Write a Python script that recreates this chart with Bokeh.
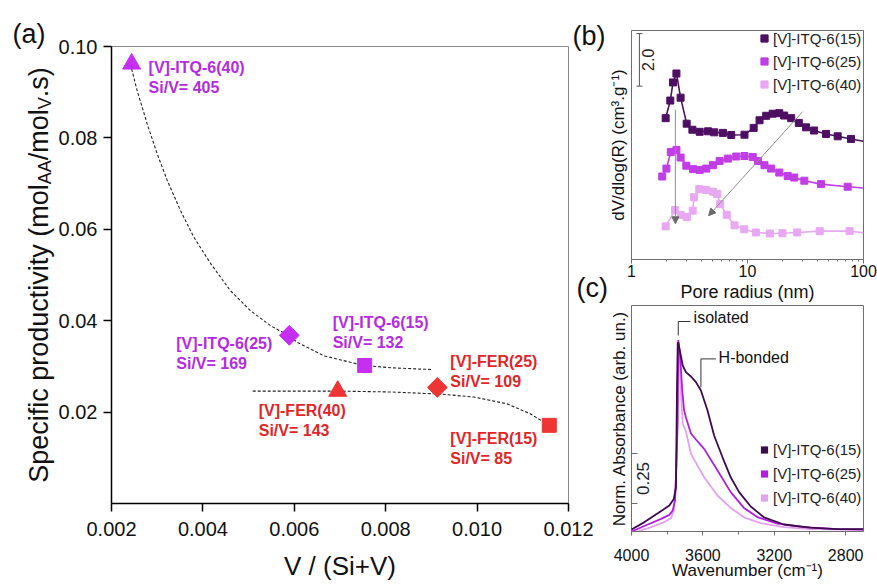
import math
from bokeh.plotting import figure
from bokeh.layouts import row, column
from bokeh.models import (Range1d, FixedTicker, Label, Arrow, NormalHead, TeeHead,
                          Legend, LegendItem, PrintfTickFormatter, BasicTickFormatter,
                          CustomJSTickFormatter)
from bokeh.embed import file_html
from bokeh.resources import INLINE

FONT = "Liberation Sans"

# ===================== DATA =====================
# ---- panel (a): specific productivity vs V/(Si+V)
a_names = ["[V]-ITQ-6(40)", "[V]-ITQ-6(25)", "[V]-ITQ-6(15)",
           "[V]-FER(40)", "[V]-FER(25)", "[V]-FER(15)"]
a_si_v = [405, 169, 132, 143, 109, 85]
a_v_frac = [0.00244, 0.00589, 0.00754, 0.00695, 0.00913, 0.01158]
a_productivity = [0.0962, 0.0368, 0.0302, 0.0246, 0.0254, 0.0171]

a_trend_itq_x = [0.00244, 0.00256, 0.00278, 0.00300, 0.00322, 0.00351, 0.00380, 0.00417,
                 0.00460, 0.00504, 0.00548, 0.00589, 0.00606, 0.00665, 0.00723, 0.00754,
                 0.00811, 0.00902]
a_trend_itq_y = [0.0951, 0.0904, 0.0831, 0.0765, 0.0707, 0.0641, 0.0583, 0.0525,
                 0.0466, 0.0422, 0.0389, 0.0367, 0.0353, 0.0323, 0.0309, 0.0302,
                 0.0297, 0.0293]
a_trend_fer_x = [0.00509, 0.00695, 0.00811, 0.00883, 0.00913, 0.00993, 0.01066, 0.01117, 0.01146]
a_trend_fer_y = [0.0246, 0.0246, 0.0244, 0.0241, 0.0240, 0.0233, 0.0218, 0.0196, 0.0178]

a_xticks = [0.002, 0.004, 0.006, 0.008, 0.010, 0.012]
a_yticks = [0.02, 0.04, 0.06, 0.08, 0.10]

# ---- panel (b): pore size distribution (offset curves)
b_labels = ["[V]-ITQ-6(15)", "[V]-ITQ-6(25)", "[V]-ITQ-6(40)"]
b_r15 = [1.97, 2.16, 2.28, 2.44, 2.65, 2.99, 3.35, 3.87, 4.57, 5.17, 6.14, 7.24, 9.42,
         11.3, 12.7, 14.5, 16.5, 18.8, 20.7, 23.8, 27.7, 32.0, 37.5, 47.5, 59.9, 78.0, 100.0]
b_v15 = [5.38, 6.05, 6.74, 7.08, 6.16, 5.17, 4.94, 4.86, 4.88, 4.84, 4.82, 4.74, 4.75,
         5.01, 5.30, 5.47, 5.55, 5.57, 5.48, 5.38, 5.20, 5.03, 4.91, 4.78, 4.69, 4.59, 4.50]
b_r25 = [1.84, 2.00, 2.18, 2.44, 2.65, 2.97, 3.39, 3.87, 4.41, 5.04, 5.75, 6.78, 8.00,
         9.42, 11.1, 12.3, 14.0, 16.0, 18.8, 22.2, 25.3, 30.9, 43.0, 73.0, 100.0]
b_v25 = [3.16, 3.46, 4.09, 4.17, 3.88, 3.57, 3.44, 3.41, 3.46, 3.59, 3.75, 3.84, 3.92,
         3.94, 3.90, 3.75, 3.59, 3.46, 3.31, 3.18, 3.12, 3.00, 2.87, 2.77, 2.72]
b_r40 = [1.97, 2.37, 2.66, 3.00, 3.37, 3.46, 3.84, 4.41, 5.04, 5.49, 5.82, 6.62, 7.73,
         9.37, 11.8, 15.6, 20.0, 26.8, 41.9, 75.9, 100.0]
b_v40 = [1.26, 1.88, 1.69, 1.62, 1.86, 2.37, 2.68, 2.65, 2.58, 2.49, 2.11, 1.70, 1.30,
         1.15, 1.03, 0.99, 1.00, 1.03, 1.08, 1.08, 1.02]
b_xticks = [1, 10, 100]
b_scale_bar = 2.0

# ---- panel (c): FTIR OH region, normalised
c_labels = ["[V]-ITQ-6(15)", "[V]-ITQ-6(25)", "[V]-ITQ-6(40)"]
c_wn15 = [4000, 3927, 3872, 3825, 3788, 3763, 3751, 3745, 3741, 3738, 3727, 3713, 3695, 3667,
          3639, 3611, 3574, 3537, 3490, 3444, 3397, 3332, 3258, 3146, 2998, 2848, 2700]
c_ab15 = [0.000, 0.037, 0.070, 0.098, 0.120, 0.153, 0.210, 0.710, 0.930, 0.936, 0.886, 0.820,
          0.787, 0.765, 0.737, 0.695, 0.595, 0.470, 0.361, 0.261, 0.187, 0.115, 0.061, 0.025,
          0.009, 0.002, 0.002]
c_wn25 = [4000, 3908, 3834, 3788, 3769, 3756, 3749, 3741, 3738, 3727, 3716, 3706, 3695, 3667,
          3639, 3593, 3518, 3444, 3370, 3295, 3183, 3035, 2848, 2700]
c_ab25 = [-0.010, 0.025, 0.053, 0.073, 0.095, 0.145, 0.295, 0.545, 0.948, 0.862, 0.700, 0.600,
          0.560, 0.480, 0.450, 0.403, 0.295, 0.187, 0.108, 0.062, 0.029, 0.012, 0.002, 0.000]
c_wn40 = [4000, 3890, 3816, 3778, 3763, 3754, 3745, 3738, 3729, 3721, 3713, 3695, 3667, 3593,
          3518, 3444, 3370, 3277, 3146, 2998, 2700]
c_ab40 = [-0.020, 0.012, 0.037, 0.058, 0.095, 0.210, 0.445, 0.920, 0.800, 0.650, 0.530, 0.490,
          0.378, 0.261, 0.170, 0.108, 0.061, 0.032, 0.012, 0.002, -0.002]
c_xticks = [4000, 3600, 3200, 2800]
c_xminor = [3800, 3400, 3000]
c_scale_bar = 0.25

# ===================== STYLE =====================
A_FILL = {"ITQ": "#C52FF2", "FER": "#EF3434"}
A_TEXT = {"ITQ": "#B42BE2", "FER": "#E02626"}
A_MARK = {"[V]-ITQ-6(40)": ("triangle", 18, 0.0), "[V]-ITQ-6(25)": ("square", 14, math.pi / 4),
          "[V]-ITQ-6(15)": ("square", 14, 0.0), "[V]-FER(40)": ("triangle", 18, 0.0),
          "[V]-FER(25)": ("square", 14, math.pi / 4), "[V]-FER(15)": ("square", 14, 0.0)}
A_LBL_OFF = {"[V]-ITQ-6(40)": (17, -4), "[V]-ITQ-6(25)": (-113, -8),
             "[V]-ITQ-6(15)": (-32, 43), "[V]-FER(40)": (-79, -19),
             "[V]-FER(25)": (13, 26), "[V]-FER(15)": (-99, -13)}
B_COL = ["#4E0F62", "#C13DE6", "#E8A8F2"]
C_COL = ["#3E0B4E", "#B01EDE", "#E2A2EE"]
FRAME_COL = "#6E6E6E"
W, H = 877, 584

ARIAL_W = {' ': 278, '(': 333, ')': 333, '.': 278, '/': 278, 'A': 667, 'S': 667, 'V': 667,
           'c': 500, 'd': 556, 'e': 556, 'f': 278, 'i': 222, 'l': 222, 'm': 833, 'o': 556,
           'p': 556, 'r': 333, 's': 500, 't': 278, 'u': 556, 'v': 500, 'y': 500}


def tw(s, fs):
    return sum(ARIAL_W.get(ch, 556) for ch in s) * fs / 1000.0


def style_axis(ax, size):
    ax.major_label_text_font = FONT
    ax.major_label_text_font_size = size
    ax.major_label_text_color = "#111111"
    ax.axis_label_text_font = FONT
    ax.axis_label_text_font_style = "normal"
    ax.axis_label_text_color = "#111111"


# ===================== PANEL (a) =====================
A_FL, A_FT, A_FW, A_FH = 111, 46, 457, 457   # frame position in page pixels
A_W = 605
p_a = figure(width=A_W, height=H, x_range=Range1d(0.002, 0.012), y_range=Range1d(0.0, 0.10),
             output_backend="svg", toolbar_location=None,
             min_border_left=A_FL, min_border_top=A_FT,
             min_border_right=A_W - A_FL - A_FW, min_border_bottom=H - A_FT - A_FH)
p_a.grid.visible = False
p_a.outline_line_color = "#8A8A8A"
for ax in (p_a.xaxis[0], p_a.yaxis[0]):
    style_axis(ax, "20px")
    ax.axis_line_color = "black"
    ax.axis_line_width = 1.5
    ax.major_tick_line_width = 1.5
    ax.major_tick_line_color = "black"
    ax.major_tick_out = 8
    ax.major_tick_in = 0
    ax.minor_tick_out = 0
    ax.minor_tick_in = 0
p_a.xaxis.ticker = FixedTicker(ticks=a_xticks)
p_a.xaxis.formatter = PrintfTickFormatter(format="%.3f")
p_a.xaxis.major_label_standoff = 10
p_a.yaxis.ticker = FixedTicker(ticks=a_yticks)
p_a.yaxis.formatter = PrintfTickFormatter(format="%.2f")
p_a.yaxis.major_label_standoff = 6

p_a.line(a_trend_itq_x, a_trend_itq_y, line_color="#222222", line_width=1.1, line_dash="3 2")
p_a.line(a_trend_fer_x, a_trend_fer_y, line_color="#222222", line_width=1.1, line_dash="3 2")

for i, name in enumerate(a_names):
    fam = "ITQ" if "ITQ" in name else "FER"
    mk, sz, ang = A_MARK[name]
    p_a.scatter(x=[a_v_frac[i]], y=[a_productivity[i]], marker=mk, size=sz, angle=ang,
                fill_color=A_FILL[fam], line_color=A_FILL[fam], line_width=1)
    dx, dy = A_LBL_OFF[name]
    for k, txt in enumerate([name, "Si/V= %d" % a_si_v[i]]):
        p_a.add_layout(Label(x=a_v_frac[i], y=a_productivity[i], x_offset=dx, y_offset=dy - 20 * k,
                             text=txt, text_font=FONT, text_font_size="16px", text_font_style="bold",
                             text_color=A_TEXT[fam], text_align="left", text_baseline="middle"))

# ===================== PANEL (b) =====================
B_W, B_H = W - A_W, 304
B_FL, B_FT, B_FW, B_FH = 25, 30, 233, 231
p_b = figure(width=B_W, height=B_H, x_axis_type="log", x_range=Range1d(1, 100),
             y_range=Range1d(0, B_FH / 26.5), output_backend="svg", toolbar_location=None,
             min_border_left=B_FL, min_border_right=B_W - B_FL - B_FW, min_border_top=B_FT,
             min_border_bottom=B_H - B_FT - B_FH)
p_b.grid.visible = False
p_b.outline_line_color = FRAME_COL
xa = p_b.xaxis[0]
style_axis(xa, "16px")
xa.ticker = FixedTicker(ticks=b_xticks, minor_ticks=[m * 10 ** e for e in (0, 1) for m in range(2, 10)])
xa.formatter = BasicTickFormatter()
xa.axis_line_color = FRAME_COL
xa.major_tick_line_color = FRAME_COL
xa.minor_tick_line_color = FRAME_COL
xa.major_tick_out = 4
xa.major_tick_in = 0
xa.minor_tick_out = 2
xa.minor_tick_in = 0
xa.major_label_standoff = 1
xa.axis_label = "Pore radius (nm)"
xa.axis_label_text_font_size = "18px"
xa.axis_label_standoff = 2
ya = p_b.yaxis[0]
style_axis(ya, "16px")
ya.ticker = FixedTicker(ticks=[])
ya.axis_line_color = None
ya.major_tick_out = 0
ya.major_tick_in = 0
ya.minor_tick_out = 0
ya.minor_tick_in = 0
ya.axis_label = "dV/dlog(R) (cm³.g⁻¹)"
ya.axis_label_text_font_size = "17px"
ya.axis_label_standoff = 4

b_items = []
for lab, rr, vv, col in zip(b_labels, [b_r15, b_r25, b_r40], [b_v15, b_v25, b_v40], B_COL):
    p_b.line(rr, vv, line_color=col, line_width=1.6)
    mr = [r for r in rr if r < 99]
    mv = [v for r, v in zip(rr, vv) if r < 99]
    sr = p_b.scatter(mr, mv, marker="square", size=7, fill_color=col, line_color=col)
    b_items.append(LegendItem(label=lab, renderers=[sr]))

p_b.add_layout(Legend(items=b_items, location=(124, 165), glyph_width=18, glyph_height=20,
                      spacing=3, padding=0, margin=0, label_standoff=0, label_text_font=FONT,
                      label_text_font_size="15px", label_text_color="#222222",
                      background_fill_alpha=0, border_line_alpha=0))

p_b.add_layout(Arrow(x_start=2.39, y_start=5.7, x_end=2.39, y_end=1.36, line_color="#8C8C8C",
                     line_width=1, end=NormalHead(size=7, fill_color="#6A6A6A", line_color="#6A6A6A")))
p_b.add_layout(Arrow(x_start=29.9, y_start=5.63, x_end=4.62, y_end=1.67, line_color="#8C8C8C",
                     line_width=1, end=NormalHead(size=7, fill_color="#6A6A6A", line_color="#6A6A6A")))
sb_top = 8.6
p_b.add_layout(Arrow(x_start=1.17, y_start=sb_top - b_scale_bar, x_end=1.17, y_end=sb_top,
                     line_color="#555555", line_width=1,
                     start=TeeHead(size=6, line_color="#555555", line_width=1),
                     end=TeeHead(size=6, line_color="#555555", line_width=1)))
p_b.add_layout(Label(x=1.40, y=sb_top - b_scale_bar / 2, text="%.1f" % b_scale_bar,
                     angle=math.pi / 2, text_font=FONT, text_font_size="16px",
                     text_align="center", text_baseline="middle", text_color="#222222"))

# ===================== PANEL (c) =====================
C_W, C_H = W - A_W, H - B_H
C_FL, C_FT, C_FW, C_FH = 25, 1, 233, 226
p_c = figure(width=C_W, height=C_H, x_range=Range1d(4000, 2700), y_range=Range1d(-0.01, 1.12),
             output_backend="svg", toolbar_location=None,
             min_border_left=C_FL, min_border_right=C_W - C_FL - C_FW, min_border_top=C_FT,
             min_border_bottom=C_H - C_FT - C_FH)
p_c.grid.visible = False
p_c.outline_line_color = FRAME_COL
xc = p_c.xaxis[0]
style_axis(xc, "16px")
xc.ticker = FixedTicker(ticks=c_xticks, minor_ticks=c_xminor)
xc.formatter = BasicTickFormatter()
xc.axis_line_color = FRAME_COL
xc.major_tick_line_color = FRAME_COL
xc.minor_tick_line_color = FRAME_COL
xc.major_tick_out = 4
xc.major_tick_in = 0
xc.minor_tick_out = 3
xc.minor_tick_in = 0
xc.major_label_standoff = 13
xc.axis_label = "Wavenumber (cm⁻¹)"
xc.axis_label_text_font_size = "17px"
xc.axis_label_standoff = -3
yc = p_c.yaxis[0]
style_axis(yc, "16px")
yc.ticker = FixedTicker(ticks=[0.13, 0.38])
yc.formatter = CustomJSTickFormatter(code="return ''")
yc.axis_line_color = None
yc.major_tick_in = 6
yc.major_tick_out = 0
yc.major_tick_line_color = FRAME_COL
yc.minor_tick_out = 0
yc.minor_tick_in = 0
yc.major_label_standoff = 0
yc.axis_label = "Norm. Absorbance (arb. un.)"
yc.axis_label_text_font_size = "17px"
yc.axis_label_standoff = 3

for ww, aa, col in zip([c_wn40, c_wn25, c_wn15], [c_ab40, c_ab25, c_ab15], C_COL[::-1]):
    p_c.line(ww, aa, line_color=col, line_width=1.8)
c_items = []
for lab, ww, aa, col in zip(c_labels, [c_wn15, c_wn25, c_wn40], [c_ab15, c_ab25, c_ab40], C_COL):
    sr = p_c.scatter(ww, aa, marker="square", size=0, line_width=0, fill_color=col, line_color=col)
    c_items.append(LegendItem(label=lab, renderers=[sr]))
p_c.add_layout(Legend(items=c_items, location=(124, 23), glyph_width=18, glyph_height=21,
                      spacing=3, padding=0, margin=0, label_standoff=0, label_text_font=FONT,
                      label_text_font_size="15px", label_text_color="#222222",
                      background_fill_alpha=0, border_line_alpha=0))

p_c.add_layout(Label(x=3935, y=0.255, text="%.2f" % c_scale_bar, angle=math.pi / 2,
                     text_font=FONT, text_font_size="17px", text_align="center",
                     text_baseline="middle", text_color="#222222"))
for xs, ys, xe, ye in [(3738, 0.97, 3738, 1.04), (3738, 1.04, 3670, 1.04),
                       (3611, 0.71, 3611, 0.853), (3611, 0.853, 3527, 0.853)]:
    p_c.add_layout(Arrow(x_start=xs, y_start=ys, x_end=xe, y_end=ye, end=None,
                         line_color="#333333", line_width=1))
p_c.add_layout(Label(x=3652, y=1.058, text="isolated", text_font=FONT, text_font_size="16px",
                     text_align="left", text_baseline="middle", text_color="#111111"))
p_c.add_layout(Label(x=3512, y=0.861, text="H-bonded", text_font=FONT, text_font_size="16px",
                     text_align="left", text_baseline="middle", text_color="#111111"))

# ===================== OVERLAY for free text (page pixel coordinates) =====================
ov = figure(width=W, height=H, x_range=Range1d(0, W), y_range=Range1d(H, 0),
            x_axis_location=None, y_axis_location=None, min_border=0,
            output_backend="svg", toolbar_location=None)
ov.grid.visible = False
ov.outline_line_color = None
ov.background_fill_alpha = 0
ov.border_fill_alpha = 0
ov.styles = {"margin-top": "-%dpx" % H}

ov.add_layout(Label(x=A_FL + A_FW / 2.0, y=565, text="V / (Si+V)", text_font=FONT,
                    text_font_size="26px", text_align="center", text_baseline="middle",
                    text_color="#111111"))
pieces = [("Specific productivity (mol", 27, 0), ("AA", 18, 6), ("/mol", 27, 0), ("V", 18, 6),
          (".s)", 27, 0)]
total = sum(tw(t, fs) for t, fs, _ in pieces)
ystart = (A_FT + A_FH / 2.0) + total / 2.0
for t, fs, sh in pieces:
    ov.add_layout(Label(x=38 + sh, y=ystart, text=t, angle=math.pi / 2,
                        text_font=FONT, text_font_size="%dpx" % fs, text_align="left",
                        text_baseline="alphabetic", text_color="#111111"))
    ystart -= tw(t, fs)
for txt, px, py in [("(a)", 12, 33), ("(b)", 572, 35), ("(c)", 576, 287)]:
    ov.add_layout(Label(x=px, y=py, text=txt, text_font=FONT, text_font_size="27px",
                        text_align="left", text_baseline="middle", text_color="#111111"))

layout = column(row(p_a, column(p_b, p_c, spacing=0), spacing=0), ov, spacing=0)
open("out.html", "w").write(file_html(layout, INLINE))
